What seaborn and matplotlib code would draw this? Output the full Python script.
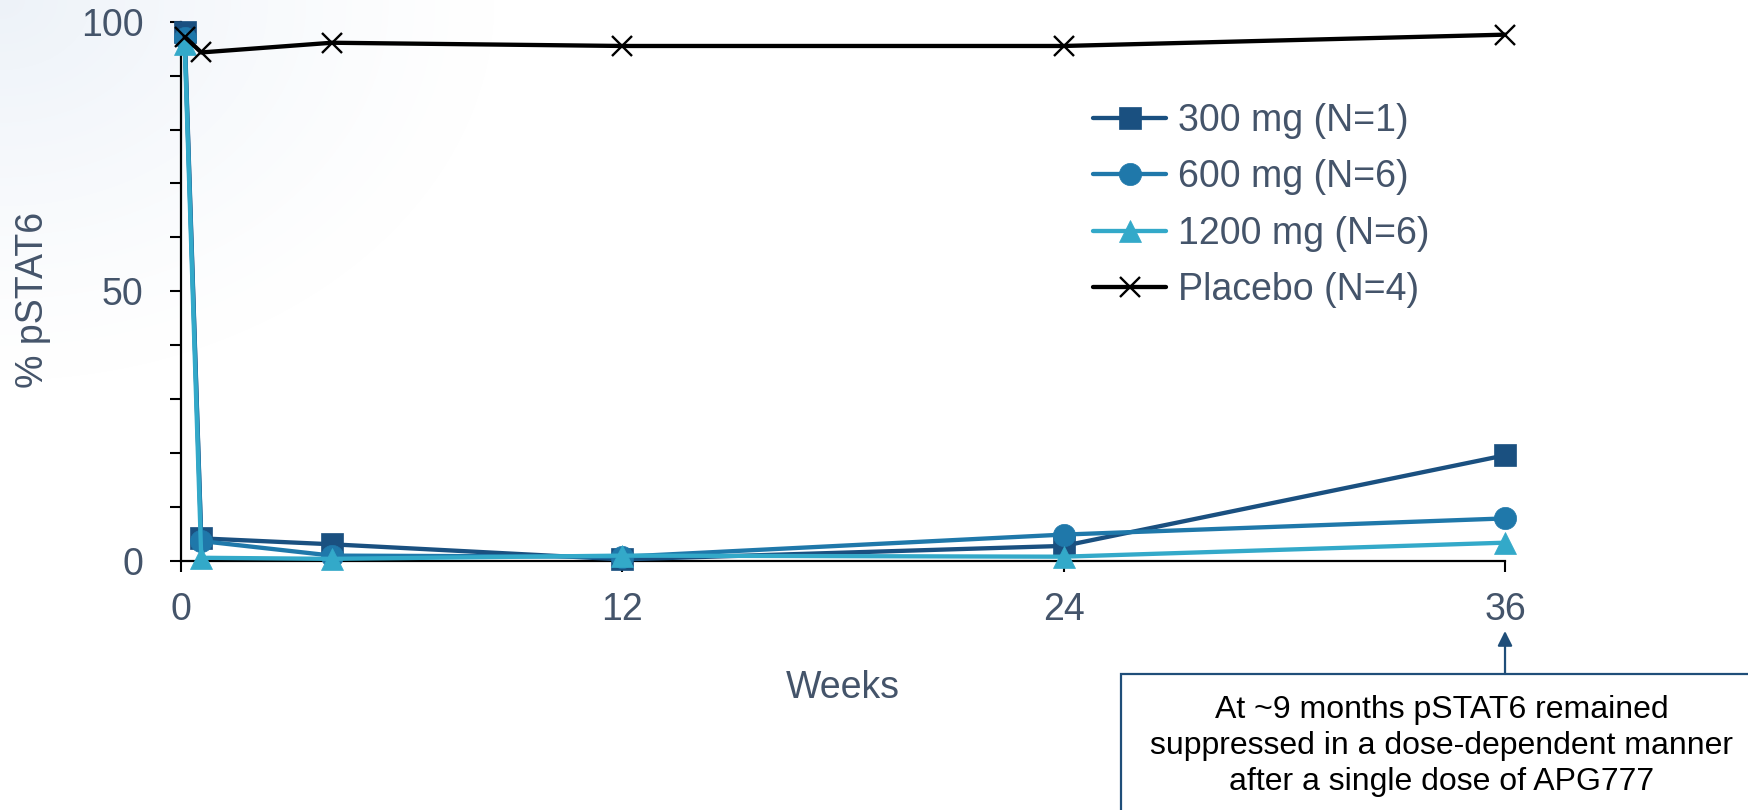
import numpy as np
import pandas as pd
import matplotlib
matplotlib.use("Agg")
import matplotlib.pyplot as plt
import seaborn as sns

# ---- data -------------------------------------------------------------
weeks = [0.1, 0.55, 4.1, 12, 24, 36]
groups = ["300 mg (N=1)", "600 mg (N=6)", "1200 mg (N=6)", "Placebo (N=4)"]
pstat_300 = [98.0, 4.2, 3.1, 0.3, 2.8, 19.6]
pstat_600 = [97.0, 3.7, 1.0, 0.8, 4.9, 7.9]
pstat_1200 = [95.8, 0.6, 0.4, 1.0, 0.8, 3.4]
pstat_placebo = [97.2, 94.3, 96.1, 95.5, 95.5, 97.6]
x_ticks = [0, 12, 24, 36]
y_major = [0, 50, 100]
note = ("At ~9 months pSTAT6 remained\n"
        "suppressed in a dose-dependent manner\n"
        "after a single dose of APG777")

series = [pstat_300, pstat_600, pstat_1200, pstat_placebo]
colors = ["#1a5080", "#1f78aa", "#33a9c9", "#000000"]
markers = ["s", "o", "^", "x"]
msizes = [16, 16, 16, 15]

df = pd.DataFrame({
    "Week": np.tile(weeks, len(groups)),
    "pSTAT6": np.concatenate(series),
    "Group": np.repeat(groups, len(weeks)),
})

# ---- style ------------------------------------------------------------
sns.set_theme(style="ticks")
plt.rcParams["font.family"] = ["Liberation Sans", "DejaVu Sans"]
text_col = "#44546a"
fs = 27

fig = plt.figure(figsize=(17.49, 8.10), dpi=100)
fig.patch.set_facecolor("white")

# soft tint in the upper-left corner of the canvas
bg = fig.add_axes([0, 0, 1, 1], zorder=-5)
h, w = 810, 1749
yy, xx = np.mgrid[0:h, 0:w]
d = np.sqrt((xx / 1.3) ** 2 + yy ** 2)
alpha = np.clip(1 - d / 380, 0, 1) ** 1.2
tint = np.array([0.93, 0.95, 0.975])
img = np.ones((h, w, 3)) * (1 - alpha[..., None]) + tint * alpha[..., None]
bg.imshow(img, aspect="auto", extent=(0, 1, 0, 1), origin="upper")
bg.set_axis_off()

ax = fig.add_axes([0.1035, 0.3074, 0.7570, 0.6658])
ax.set_facecolor("none")

for i, g in enumerate(groups):
    sub = df[df["Group"] == g]
    sns.lineplot(data=sub, x="Week", y="pSTAT6", ax=ax, color=colors[i],
                 marker=markers[i], markersize=msizes[i],
                 markeredgecolor=colors[i],
                 markeredgewidth=1.7 if markers[i] == "x" else 0.5,
                 linewidth=3.1, label=g, clip_on=False, zorder=3 + i)

ax.set_xlim(0, 36)
ax.set_ylim(0, 100)
ax.set_xticks(x_ticks)
ax.set_yticks(y_major)
ax.set_yticks(np.arange(0, 101, 10), minor=True)
ax.tick_params(axis="both", which="both", direction="out", length=8,
               width=1.5, color="black")
ax.tick_params(axis="y", which="major", labelsize=fs, labelcolor=text_col, pad=19)
ax.tick_params(axis="x", which="major", labelsize=fs, labelcolor=text_col, pad=14)
sns.despine(ax=ax)
for s in ("left", "bottom"):
    ax.spines[s].set_linewidth(1.6)
    ax.spines[s].set_color("black")

ax.set_xlabel("Weeks", fontsize=fs, color=text_col)
ax.xaxis.set_label_coords(0.5, -0.236)
ax.xaxis.label.set_va("center")
ax.set_ylabel("% pSTAT6", fontsize=fs, color=text_col)
ax.yaxis.set_label_coords(-0.112, 0.485)
ax.yaxis.label.set_va("center")

leg = ax.legend(loc="upper left", bbox_to_anchor=(0.625, 0.873),
                bbox_transform=fig.transFigure, frameon=False,
                fontsize=fs, handlelength=1.95, handletextpad=0.32,
                labelspacing=0.545, borderpad=0, borderaxespad=0)
for t in leg.get_texts():
    t.set_color(text_col)

# callout box with arrow pointing at week 36
box_col = "#1f4e79"
fig.patches.append(plt.Rectangle((1121 / 1749, -0.2), 0.6, 0.2 + (1 - 674 / 810),
                                 transform=fig.transFigure, fill=False,
                                 edgecolor=box_col, linewidth=1.6))
fig.text(1442 / 1749, 1 - 746 / 810, note, ha="center", va="center",
         fontsize=23, color="black", linespacing=1.28)
ax.annotate("", xy=(36, 1 - 631 / 810), xycoords=("data", "figure fraction"),
            xytext=(36, 1 - 674 / 810), textcoords=("data", "figure fraction"),
            arrowprops=dict(arrowstyle="-|>", color=box_col, lw=1.6,
                            mutation_scale=22, shrinkA=0, shrinkB=0))

fig.savefig("out.png", dpi=100)
